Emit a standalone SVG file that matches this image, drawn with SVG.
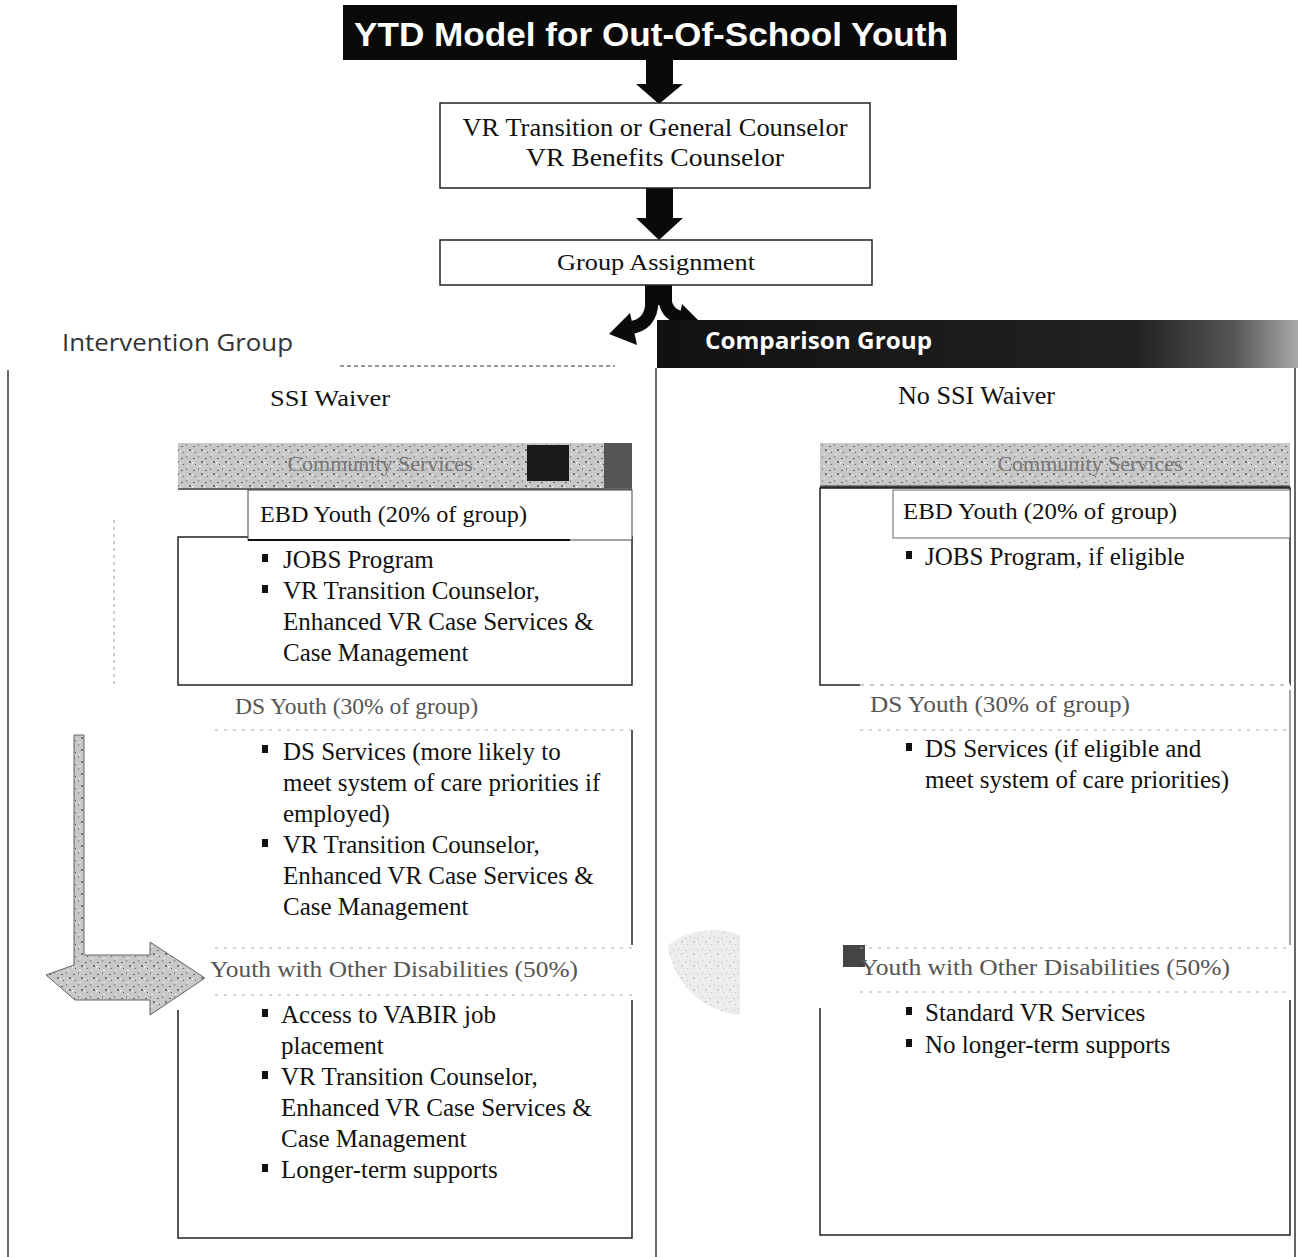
<svg xmlns="http://www.w3.org/2000/svg" width="1298" height="1257" viewBox="0 0 1298 1257">
<defs>
<style>
.serif{font-family:"Liberation Serif","Times New Roman",serif;fill:#111}
.bul{font-size:25px}
.faint{fill:#555}
.box{fill:#fff;stroke:#222;stroke-width:1.5}
.frame{stroke:#333;stroke-width:1.5;fill:none}
.thin{stroke:#999;stroke-width:1;fill:none;stroke-dasharray:3 4}
.dash{stroke:#aaa;stroke-width:1;stroke-dasharray:3 6}
</style>
<pattern id="noise" width="12" height="12" patternUnits="userSpaceOnUse">
<rect width="12" height="12" fill="#c8c8c8"/>
<rect x="1" y="2" width="2" height="1" fill="#666"/>
<rect x="6" y="0" width="1" height="2" fill="#888"/>
<rect x="9" y="5" width="2" height="2" fill="#777"/>
<rect x="3" y="8" width="1" height="1" fill="#555"/>
<rect x="7" y="10" width="2" height="1" fill="#eee"/>
<rect x="0" y="6" width="1" height="2" fill="#eee"/>
</pattern>
<linearGradient id="cmpg" x1="0" x2="1" y1="0" y2="0">
<stop offset="0" stop-color="#111"/>
<stop offset="0.75" stop-color="#222"/>
<stop offset="0.9" stop-color="#555"/>
<stop offset="1" stop-color="#aaa"/>
</linearGradient>
</defs>

<g id="title">
<rect x="343" y="5" width="614" height="55" fill="#0a0a0a"/>
<text x="651" y="46" text-anchor="middle" font-family="'Liberation Sans',Arial,sans-serif" font-weight="bold" font-size="33" fill="#fff" textLength="594" lengthAdjust="spacingAndGlyphs">YTD Model for Out-Of-School Youth</text>
</g>

<g id="connectors" fill="#0a0a0a">
<polygon points="646,60 673,60 673,84 683,84 659,104 636,84 646,84"/>
<polygon points="646,188 673,188 673,218 683,218 659,240 636,218 646,218"/>
<rect x="645" y="285" width="27" height="20"/>
<path d="M652,300 Q652,326 628,328" fill="none" stroke="#0a0a0a" stroke-width="13"/>
<polygon points="609,334 630,313 637,345"/>
<path d="M665,300 Q667,316 684,318" fill="none" stroke="#0a0a0a" stroke-width="13"/>
<polygon points="704,326 682,304 676,336"/>
</g>

<g id="counselor">
<rect class="box" x="440" y="103" width="430" height="85"/>
<text class="serif" x="655" y="136" text-anchor="middle" font-size="25" textLength="385" lengthAdjust="spacingAndGlyphs">VR Transition or General Counselor</text>
<text class="serif" x="655" y="166" text-anchor="middle" font-size="25" textLength="258" lengthAdjust="spacingAndGlyphs">VR Benefits Counselor</text>
</g>

<g id="assignment">
<rect class="box" x="440" y="240" width="432" height="45"/>
<text class="serif" x="656" y="270" text-anchor="middle" font-size="23" textLength="198" lengthAdjust="spacingAndGlyphs">Group Assignment</text>
</g>

<g id="intervention-header">
<text x="62" y="351" font-family="'Open Sans','Liberation Sans',sans-serif" font-size="23" fill="#333" textLength="231" lengthAdjust="spacingAndGlyphs">Intervention Group</text>
<line x1="340" y1="366" x2="615" y2="366" stroke="#999" stroke-width="2" stroke-dasharray="4 3"/>
</g>

<g id="comparison-header">
<rect x="657" y="320" width="641" height="48" fill="url(#cmpg)"/>
<text x="705" y="349" font-family="'Open Sans','Liberation Sans',sans-serif" font-weight="bold" font-size="23" fill="#fff" textLength="227" lengthAdjust="spacingAndGlyphs">Comparison Group</text>
</g>

<g id="frames">
<line class="frame" x1="8" y1="370" x2="8" y2="1257"/>
<line class="frame" x1="656" y1="368" x2="656" y2="1257" stroke-width="1"/>
<line class="frame" x1="1295" y1="368" x2="1295" y2="1257" stroke-width="1"/>
</g>

<g id="intervention">
<text class="serif" x="330" y="406" text-anchor="middle" font-size="24" textLength="120" lengthAdjust="spacingAndGlyphs">SSI Waiver</text>
<g id="int-services-bar">
<rect x="178" y="443" width="454" height="47" fill="url(#noise)"/>
<rect x="527" y="445" width="42" height="36" fill="#1a1a1a"/>
<rect x="604" y="443" width="28" height="47" fill="#555"/>
<line x1="178" y1="489" x2="632" y2="489" stroke="#666" stroke-width="2"/>
<text x="380" y="471" text-anchor="middle" font-family="'Liberation Serif',serif" font-size="22" fill="#777">Community Services</text>
</g>
<g id="int-ebd">
<rect x="178" y="537" width="454" height="148" fill="#fff" stroke="#222" stroke-width="1.5"/>
<rect x="248" y="490" width="384" height="50" fill="#fff" stroke="#444" stroke-width="1"/>
<line x1="248" y1="540" x2="570" y2="540" stroke="#111" stroke-width="2"/>
<text class="serif" x="260" y="522" font-size="24" textLength="267" lengthAdjust="spacingAndGlyphs">EBD Youth (20% of group)</text>
<g class="serif bul">
<rect x="262" y="554" width="6" height="8"/>
<text x="283" y="568">JOBS Program</text>
<rect x="262" y="585" width="6" height="8"/>
<text x="283" y="599">VR Transition Counselor,</text>
<text x="283" y="630">Enhanced VR Case Services &amp;</text>
<text x="283" y="661">Case Management</text>
</g>
<line class="thin" x1="114" y1="520" x2="114" y2="685"/>
</g>
<g id="int-ds">
<text class="serif faint" x="235" y="714" font-size="23" textLength="243" lengthAdjust="spacingAndGlyphs">DS Youth (30% of group)</text>
<line class="dash" x1="215" y1="730" x2="632" y2="730"/>
<line x1="632" y1="730" x2="632" y2="945" stroke="#222" stroke-width="1.5"/>
<g class="serif bul">
<rect x="262" y="745" width="6" height="8"/>
<text x="283" y="760">DS Services (more likely to</text>
<text x="283" y="791">meet system of care priorities if</text>
<text x="283" y="822">employed)</text>
<rect x="262" y="839" width="6" height="8"/>
<text x="283" y="853">VR Transition Counselor,</text>
<text x="283" y="884">Enhanced VR Case Services &amp;</text>
<text x="283" y="915">Case Management</text>
</g>
</g>
<g id="int-other">
<path d="M74,735 L84,735 L84,955 L150,955 L150,942 L205,978 L150,1015 L150,1000 L75,1000 L46,975 L74,965 Z" fill="url(#noise)" stroke="#666" stroke-width="1"/>
<text class="serif faint" x="210" y="977" font-size="24" textLength="368" lengthAdjust="spacingAndGlyphs">Youth with Other Disabilities (50%)</text>
<line class="dash" x1="215" y1="948" x2="632" y2="948"/>
<line class="dash" x1="215" y1="995" x2="632" y2="995"/>
<path d="M178,1010 L178,1238 L632,1238 L632,1000" fill="none" stroke="#222" stroke-width="1.5"/>
<g class="serif bul">
<rect x="262" y="1009" width="6" height="8"/>
<text x="281" y="1023">Access to VABIR job</text>
<text x="281" y="1054">placement</text>
<rect x="262" y="1071" width="6" height="8"/>
<text x="281" y="1085">VR Transition Counselor,</text>
<text x="281" y="1116">Enhanced VR Case Services &amp;</text>
<text x="281" y="1147">Case Management</text>
<rect x="262" y="1164" width="6" height="8"/>
<text x="281" y="1178">Longer-term supports</text>
</g>
</g>
</g>

<g id="comparison">
<text class="serif" x="898" y="404" font-size="25" textLength="157" lengthAdjust="spacingAndGlyphs">No SSI Waiver</text>
<g id="cmp-services-bar">
<rect x="820" y="443" width="470" height="45" fill="url(#noise)"/>
<line x1="820" y1="487" x2="1290" y2="487" stroke="#444" stroke-width="3"/>
<text x="1090" y="471" text-anchor="middle" font-family="'Liberation Serif',serif" font-size="22" fill="#777">Community Services</text>
</g>
<g id="cmp-ebd">
<rect x="820" y="488" width="470" height="197" fill="#fff" stroke="#222" stroke-width="1.5"/>
<rect x="893" y="490" width="397" height="48" fill="#fff" stroke="#666" stroke-width="1"/>
<text class="serif" x="903" y="519" font-size="24" textLength="274" lengthAdjust="spacingAndGlyphs">EBD Youth (20% of group)</text>
<g class="serif bul">
<rect x="906" y="551" width="6" height="8"/>
<text x="925" y="565">JOBS Program, if eligible</text>
</g>
</g>
<g id="cmp-ds">
<line x1="860" y1="685" x2="1290" y2="685" stroke="#fff" stroke-width="3"/>
<line x1="860" y1="685" x2="1290" y2="685" stroke="#999" stroke-dasharray="4 6"/>
<text class="serif faint" x="870" y="712" font-size="24" textLength="260" lengthAdjust="spacingAndGlyphs">DS Youth (30% of group)</text>
<line class="dash" x1="860" y1="730" x2="1290" y2="730"/>
<line x1="1290" y1="690" x2="1290" y2="945" stroke="#444" stroke-width="1"/>
<g class="serif bul">
<rect x="906" y="743" width="6" height="8"/>
<text x="925" y="757">DS Services (if eligible and</text>
<text x="925" y="788">meet system of care priorities)</text>
</g>
</g>
<g id="cmp-other">
<path d="M740,935 A75,75 0 0 0 668,945 A80,80 0 0 0 740,1015 Z" fill="url(#noise)" opacity="0.35"/>
<rect x="843" y="945" width="22" height="22" fill="#444"/>
<text class="serif faint" x="860" y="975" font-size="24" textLength="370" lengthAdjust="spacingAndGlyphs">Youth with Other Disabilities (50%)</text>
<line class="dash" x1="860" y1="948" x2="1290" y2="948"/>
<line class="dash" x1="860" y1="992" x2="1290" y2="992"/>
<path d="M820,1008 L820,1235 L1290,1235 L1290,1000" fill="none" stroke="#222" stroke-width="1.5"/>
<g class="serif bul">
<rect x="906" y="1007" width="6" height="8"/>
<text x="925" y="1021">Standard VR Services</text>
<rect x="906" y="1039" width="6" height="8"/>
<text x="925" y="1053">No longer-term supports</text>
</g>
</g>
</g>
</svg>
